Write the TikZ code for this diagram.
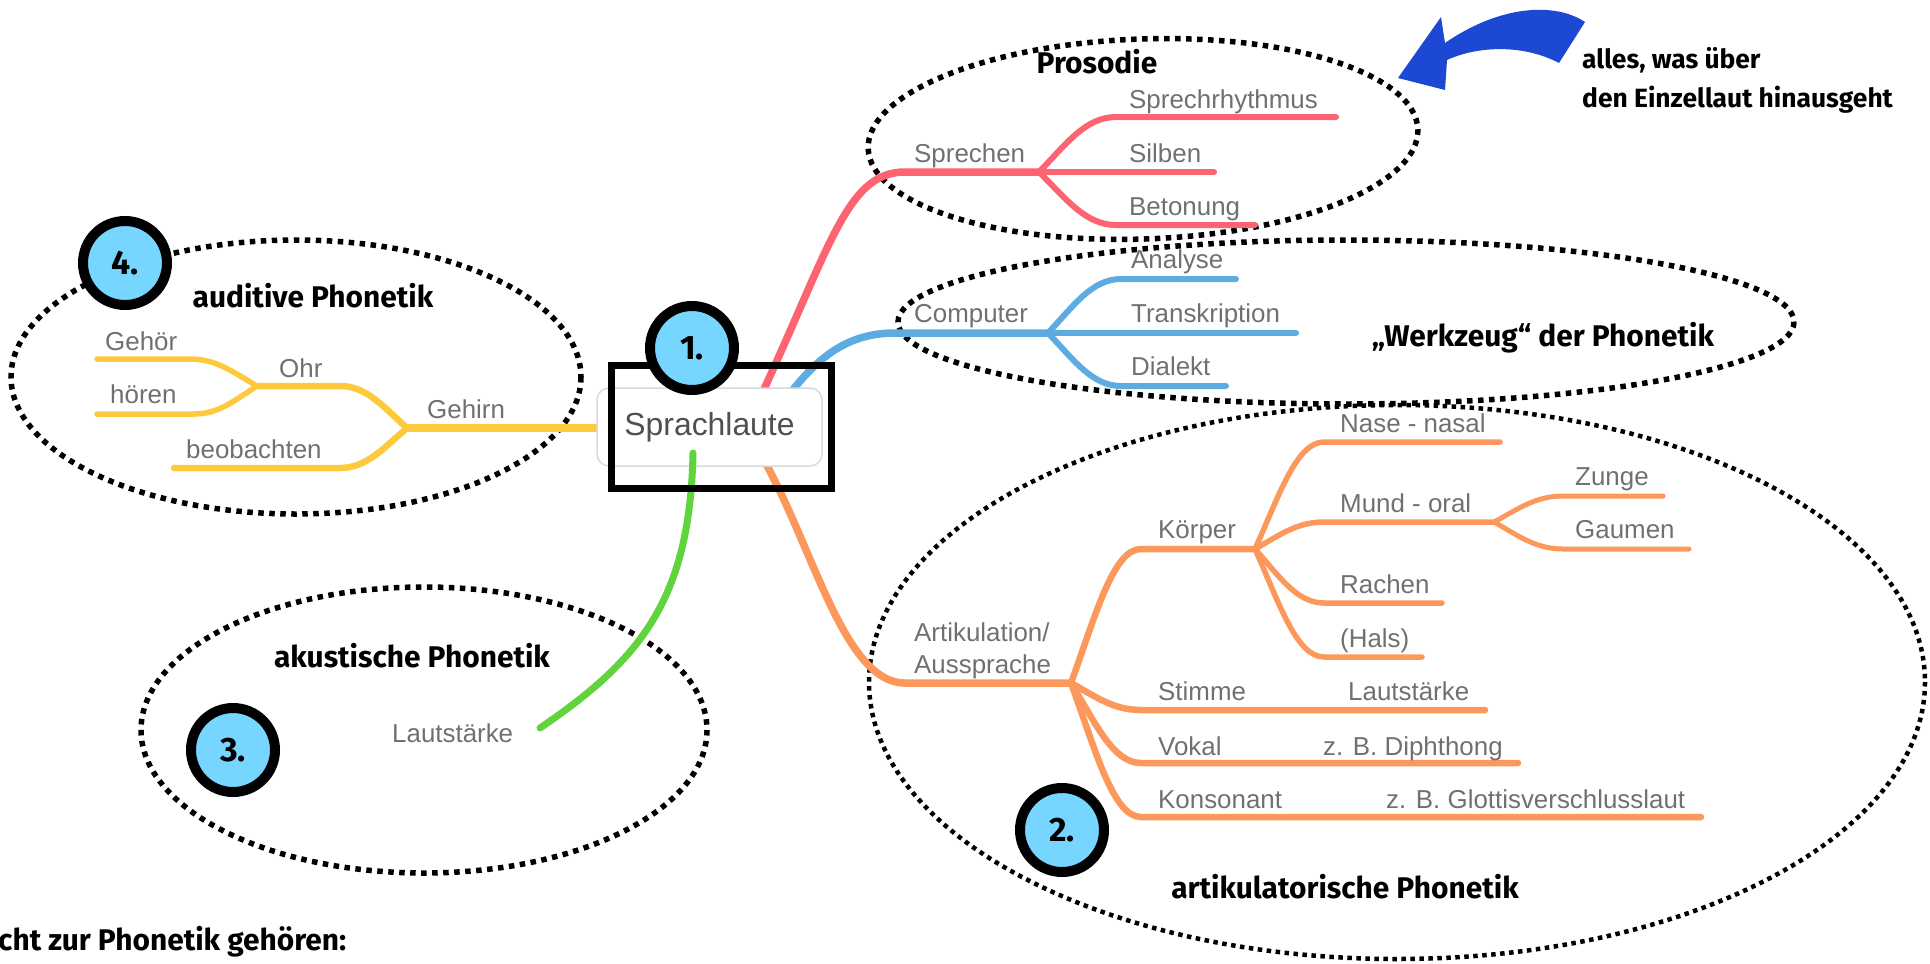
\documentclass[tikz,border=0pt]{standalone}
\usepackage{fontspec}
\setmainfont{Liberation Sans}
\newfontfamily\lblfont{Fira Sans}
\newfontfamily\handfont{Fira Sans}
\usetikzlibrary{calc}
\definecolor{cRed}{RGB}{253,99,112}
\definecolor{cBlue}{RGB}{92,172,226}
\definecolor{cOrange}{RGB}{253,152,92}
\definecolor{cYellow}{RGB}{253,202,62}
\definecolor{cGreen}{RGB}{96,212,60}
\definecolor{cText}{RGB}{112,112,112}
\definecolor{cDark}{RGB}{80,80,80}
\definecolor{cBadge}{RGB}{118,214,255}
\definecolor{cArrow}{RGB}{28,72,212}
\begin{document}
\begin{tikzpicture}[x=1bp,y=-1bp,
  lbl/.style={font=\fontsize{26}{30}\selectfont, text=cText, inner sep=0pt, anchor=base west},
  head/.style={font=\lblfont\bfseries\fontsize{30}{34}\selectfont, inner sep=0pt, anchor=base},
  hand/.style={font=\handfont\bfseries\fontsize{26.5}{30}\selectfont, inner sep=0pt, anchor=base west},
  group/.style={line width=5.5bp, dash pattern=on 5.5bp off 5.5bp},
  badge/.style={circle, draw=black, line width=10bp, fill=cBadge, minimum size=84bp, inner sep=0pt,
    font=\handfont\bfseries\fontsize{34}{38}\selectfont},
  br/.style={line cap=round, line width=6bp},
  branch/.style={to path={let \p1=(\tikztostart),\p2=(\tikztotarget) in
    .. controls (\x1+0.35*\x2-0.35*\x1, \y1+0.5*\y2-0.5*\y1) and (\x1+0.6*\x2-0.6*\x1, \y2) .. (\tikztotarget)}},
]
\useasboundingbox (0,0) rectangle (1930,964);
\clip (0,0) rectangle (1930,964);

% ---------- coordinates ----------
\coordinate (rS) at (752,415);
\coordinate (rL) at (905,172);
\coordinate (rF) at (1039,172);
\coordinate (r1a) at (1116,117); \coordinate (r1b) at (1336,117);
\coordinate (r2b) at (1214,172);
\coordinate (r3a) at (1116,225); \coordinate (r3b) at (1255,225);

\coordinate (bS) at (785,400);
\coordinate (bL) at (895,333);
\coordinate (bF) at (1048,333);
\coordinate (b1a) at (1121,279); \coordinate (b1b) at (1236,279);
\coordinate (b2b) at (1296,333);
\coordinate (b3a) at (1121,386); \coordinate (b3b) at (1226,386);

\coordinate (oS) at (752,440);
\coordinate (oL) at (905,683);
\coordinate (oF) at (1071,683);
\coordinate (kA) at (1141,549); \coordinate (kF) at (1255,549);
\coordinate (nA) at (1324,442); \coordinate (nB) at (1500,442);
\coordinate (mA) at (1324,522); \coordinate (mF) at (1494,522);
\coordinate (zA) at (1563,496); \coordinate (zB) at (1663,496);
\coordinate (gA) at (1563,549); \coordinate (gB) at (1689,549);
\coordinate (raA) at (1324,603); \coordinate (raB) at (1442,603);
\coordinate (hA) at (1324,657); \coordinate (hB) at (1422,657);
\coordinate (sA) at (1141,710); \coordinate (sB) at (1485,710);
\coordinate (vA) at (1141,763); \coordinate (vB) at (1518,763);
\coordinate (koA) at (1141,817); \coordinate (koB) at (1701,817);

\coordinate (yS) at (720,428);
\coordinate (yF) at (407,428);
\coordinate (ohA) at (340,386); \coordinate (ohF) at (257,386);
\coordinate (beA) at (340,468); \coordinate (beB) at (174,468);
\coordinate (geA) at (190,359); \coordinate (geB) at (97,359);
\coordinate (hoA) at (194,414); \coordinate (hoB) at (97,414);

\coordinate (gS) at (693,453);
\coordinate (gE) at (540,728);

% ---------- dotted group ellipses ----------
\draw[group, rotate around={2:(1143,139)}] (1143,139) ellipse [x radius=275, y radius=100];
\draw[group] (1346,322) ellipse [x radius=448, y radius=82];
\draw[group] (296,377) ellipse [x radius=285, y radius=137];
\draw[group] (424,730) ellipse [x radius=283, y radius=143];
\draw[group, line width=4.5bp, dash pattern=on 4.5bp off 4.5bp] (1397,682) ellipse [x radius=528, y radius=277];

% ---------- red branch ----------
\draw[br, cRed, line width=7.5bp] (rS) .. controls (830,250) and (845,172) .. (rL) -- (rF);
\draw[br, cRed] (rF) to[branch] (r1a) -- (r1b);
\draw[br, cRed] (rF) -- (r2b);
\draw[br, cRed] (rF) to[branch] (r3a) -- (r3b);

% ---------- blue branch ----------
\draw[br, cBlue, line width=7.5bp] (bS) .. controls (815,360) and (845,333) .. (bL) -- (bF);
\draw[br, cBlue] (bF) to[branch] (b1a) -- (b1b);
\draw[br, cBlue] (bF) -- (b2b);
\draw[br, cBlue] (bF) to[branch] (b3a) -- (b3b);

% ---------- orange branch ----------
\draw[br, cOrange, line width=7.5bp] (oS) .. controls (810,530) and (840,683) .. (oL) -- (oF);
\draw[br, cOrange, line width=6.5bp] (oF) to[branch] (kA) -- (kF);
\draw[br, cOrange, line width=5.5bp] (kF) to[branch] (nA) -- (nB);
\draw[br, cOrange, line width=5.5bp] (kF) to[branch] (mA) -- (mF);
\draw[br, cOrange, line width=5bp] (mF) to[branch] (zA) -- (zB);
\draw[br, cOrange, line width=5bp] (mF) to[branch] (gA) -- (gB);
\draw[br, cOrange, line width=5.5bp] (kF) to[branch] (raA) -- (raB);
\draw[br, cOrange, line width=5.5bp] (kF) to[branch] (hA) -- (hB);
\draw[br, cOrange, line width=6.5bp] (oF) to[branch] (sA) -- (sB);
\draw[br, cOrange, line width=6.5bp] (oF) to[branch] (vA) -- (vB);
\draw[br, cOrange, line width=6.5bp] (oF) to[branch] (koA) -- (koB);

% ---------- yellow branch ----------
\draw[br, cYellow, line width=8bp] (yS) -- (yF);
\draw[br, cYellow, line width=6.5bp] (yF) to[branch] (ohA) -- (ohF);
\draw[br, cYellow, line width=6.5bp] (yF) to[branch] (beA) -- (beB);
\draw[br, cYellow, line width=5.5bp] (ohF) to[branch] (geA) -- (geB);
\draw[br, cYellow, line width=5.5bp] (ohF) to[branch] (hoA) -- (hoB);

% ---------- central node ----------
\node[draw=black!15, line width=1.5bp, fill=white, rounded corners=12bp,
      minimum width=225bp, minimum height=78bp, inner sep=0pt,
      font=\fontsize{32}{36}\selectfont, text=cDark] (center) at (709.5,427) {Sprachlaute};
\draw[line cap=round, line width=7bp, cGreen] (gS) .. controls (690,600) and (640,660) .. (gE);
\node[draw=black, line width=7bp, minimum width=220bp, minimum height=123bp, inner sep=0pt] (frame) at (721.5,427) {};

% ---------- labels ----------
\node[lbl] (tSprechen) at (914,162) {Sprechen};
\node[lbl] (tRhythm) at (1129,108) {Sprechrhythmus};
\node[lbl] (tSilben) at (1129,162) {Silben};
\node[lbl] (tBeton) at (1129,215) {Betonung};

\node[lbl] (tComp) at (914,322) {Computer};
\node[lbl] (tAnal) at (1131,268) {Analyse};
\node[lbl] (tTrans) at (1131,322) {Transkription};
\node[lbl] (tDial) at (1131,375) {Dialekt};

\node[lbl] (tArt1) at (914,641) {Artikulation/};
\node[lbl] (tArt2) at (914,673) {Aussprache};
\node[lbl] (tKoer) at (1158,538) {Körper};
\node[lbl] (tNase) at (1340,432) {Nase - nasal};
\node[lbl] (tMund) at (1340,512) {Mund - oral};
\node[lbl] (tZunge) at (1575,485) {Zunge};
\node[lbl] (tGaum) at (1575,538) {Gaumen};
\node[lbl] (tRach) at (1340,593) {Rachen};
\node[lbl] (tHals) at (1340,647) {(Hals)};
\node[lbl] (tStim) at (1158,700) {Stimme};
\node[lbl] (tLaut) at (1348,700) {Lautstärke};
\node[lbl] (tVok) at (1158,755) {Vokal};
\node[lbl] (tDiph) at (1323,755) {z. B. Diphthong};
\node[lbl] (tKons) at (1158,808) {Konsonant};
\node[lbl] (tGlot) at (1386,808) {z. B. Glottisverschlusslaut};

\node[lbl] (tGehirn) at (427,418) {Gehirn};
\node[lbl] (tOhr) at (279,377) {Ohr};
\node[lbl] (tBeob) at (186,458) {beobachten};
\node[lbl] (tGehoer) at (105,350) {Gehör};
\node[lbl] (tHoeren) at (110,403) {hören};

\node[lbl] (tLautAk) at (392,742) {Lautstärke};

% ---------- group headings ----------
\node[head] (hPros) at (1097,73) {Prosodie};
\node[head] (hWerk) at (1543,346) {„Werkzeug“ der Phonetik};
\node[head] (hAud) at (313,307) {auditive Phonetik};
\node[head] (hAk) at (412,667) {akustische Phonetik};
\node[head] (hArt) at (1345,898) {artikulatorische Phonetik};
\node[head, anchor=base west] (hNicht) at (-2,950) {cht zur Phonetik gehören:};

% ---------- badges ----------
\node[badge] (b1) at (692,348) {1.};
\node[badge] (b4) at (125,263) {4.};
\node[badge] (b3) at (233,750) {3.};
\node[badge] (b2) at (1062,830) {2.};

% ---------- note with arrow ----------
\fill[cArrow] (1585,22) .. controls (1555,2) and (1500,5) .. (1445,43)
  -- (1441,17) -- (1398,78) -- (1445,90) -- (1447,60)
  .. controls (1480,45) and (1525,45) .. (1559,63) -- cycle;
\node[hand] (note1) at (1582,68) {alles, was über};
\node[hand] (note2) at (1582,107) {den Einzellaut hinausgeht};
\end{tikzpicture}
\end{document}
